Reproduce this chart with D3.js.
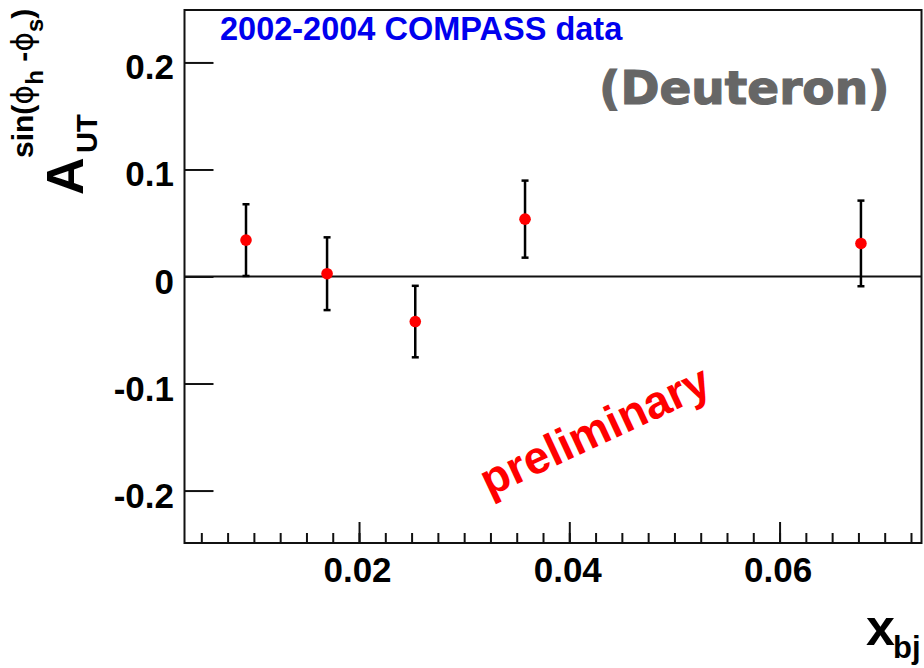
<!DOCTYPE html>
<html>
<head>
<meta charset="utf-8">
<script src="https://cdn.jsdelivr.net/npm/d3@7"></script>
<style>
html,body{margin:0;padding:0;background:#fff;}
svg{display:block;}
text{font-family:"Liberation Sans",Arial,Helvetica,sans-serif;}
</style>
</head>
<body>
<svg id="chart" width="924" height="668"></svg>
<script>
// ---- data ----
const xbj   = [0.00925, 0.01696, 0.02535, 0.03579, 0.06774];
const asym  = [0.0340, 0.0026, -0.0421, 0.0536, 0.0309];
const err   = [0.0335, 0.0340, 0.0334, 0.0360, 0.0400];
const yTicks = [-0.2, -0.1, 0, 0.1, 0.2];
const yTickLabels = ["-0.2", "-0.1", "0", "0.1", "0.2"];
const xMajorTicks = [0.02, 0.04, 0.06];
const xTickLabels = ["0.02", "0.04", "0.06"];
const xDomain = [0.0034, 0.0735];
const yDomain = [-0.249, 0.249];

const svg = d3.select("#chart");
const L = 184.5, R = 921.5, T = 10, B = 543;
const x = d3.scaleLinear().domain(xDomain).range([L, R]);
const y = d3.scaleLinear().domain(yDomain).range([B, T]);

// zero line
svg.append("line").attr("x1", L).attr("x2", R).attr("y1", y(0)).attr("y2", y(0))
  .attr("stroke", "#111").attr("stroke-width", 2);

// x axis ticks (minor every 0.0025)
const minor = d3.range(0.005, 0.0735, 0.0025).filter(v => v >= xDomain[0] && v <= xDomain[1]);
const xAxisMinor = d3.axisTop(x).tickValues(minor).tickSize(10).tickFormat("");
const xAxisMajor = d3.axisTop(x).tickValues(xMajorTicks).tickSize(21).tickFormat("");
[xAxisMinor, xAxisMajor].forEach(ax => {
  const g = svg.append("g").attr("transform", `translate(0,${B})`).call(ax);
  g.select(".domain").remove();
  g.selectAll("line").attr("stroke", "#111").attr("stroke-width", 2);
});
svg.append("g").selectAll("text").data(xMajorTicks).join("text")
  .attr("x", d => x(d) - 1.5).attr("y", 582)
  .attr("text-anchor", "middle").attr("font-size", 35).attr("font-weight", "bold")
  .text((d, i) => xTickLabels[i]);

// y axis
const yAxis = d3.axisRight(y).tickValues(yTicks).tickSize(29).tickFormat("");
const gy = svg.append("g").attr("transform", `translate(${L},0)`).call(yAxis);
gy.select(".domain").remove();
gy.selectAll("line").attr("stroke", "#111").attr("stroke-width", 2);
svg.append("g").selectAll("text").data(yTicks).join("text")
  .attr("x", 174).attr("y", d => y(d) + 17)
  .attr("text-anchor", "end").attr("font-size", 35).attr("font-weight", "bold")
  .text((d, i) => yTickLabels[i]);

// frame
svg.append("rect").attr("x", L).attr("y", T).attr("width", R - L).attr("height", B - T)
  .attr("fill", "none").attr("stroke", "#111").attr("stroke-width", 2);

// error bars
const pts = xbj.map((v, i) => ({x: v, y: asym[i], e: err[i]}));
const eb = svg.append("g");
eb.selectAll("line.v").data(pts).join("line").attr("class", "v")
  .attr("x1", d => x(d.x)).attr("x2", d => x(d.x))
  .attr("y1", d => y(d.y + d.e)).attr("y2", d => y(d.y - d.e))
  .attr("stroke", "#000").attr("stroke-width", 2.5);
["top", "bot"].forEach(k => {
  eb.selectAll("line." + k).data(pts).join("line").attr("class", k)
    .attr("x1", d => x(d.x) - 3.5).attr("x2", d => x(d.x) + 3.5)
    .attr("y1", d => y(k === "top" ? d.y + d.e : d.y - d.e))
    .attr("y2", d => y(k === "top" ? d.y + d.e : d.y - d.e))
    .attr("stroke", "#000").attr("stroke-width", 2.5);
});
svg.append("g").selectAll("circle").data(pts).join("circle")
  .attr("cx", d => x(d.x)).attr("cy", d => y(d.y)).attr("r", 5.8).attr("fill", "#f00");

// texts
svg.append("text").attr("x", 220).attr("y", 40).attr("font-size", 32.5).attr("font-weight", "bold")
  .attr("fill", "#0000ee").text("2002-2004 COMPASS data");
svg.append("text").attr("x", 599).attr("y", 104).attr("font-size", 47).attr("font-weight", "bold")
  .style("font-family", "'DejaVu Sans', Verdana, sans-serif")
  .attr("fill", "#666").attr("stroke", "#666").attr("stroke-width", 1.2).text("(Deuteron)");
svg.append("text").attr("transform", "translate(489,497) rotate(-25)")
  .attr("font-size", 46).attr("font-weight", "bold").attr("fill", "#ff0000").text("preliminary");

// y label (rotated)
const yl = svg.append("g").attr("transform", "rotate(-90)");
yl.append("text").attr("x", -195).attr("y", 83).attr("font-size", 52).attr("font-weight", "bold").text("A");
yl.append("text").attr("x", -153).attr("y", 97).attr("font-size", 29).attr("font-weight", "bold").text("UT");
const sup = yl.append("text").attr("x", -158).attr("y", 33).attr("font-size", 30).attr("font-weight", "bold");
const phi = "ϕ";
sup.append("tspan").text("sin(");
sup.append("tspan").style("font-family", "'DejaVu Sans',sans-serif").style("font-weight", "normal").text(phi);
sup.append("tspan").attr("dy", 10).attr("font-size", 24).text("h");
sup.append("tspan").attr("dy", -10).text(" -");
sup.append("tspan").style("font-family", "'DejaVu Sans',sans-serif").style("font-weight", "normal").text(phi);
sup.append("tspan").attr("dy", 10).attr("font-size", 24).text("s");
sup.append("tspan").attr("dy", -10).text(")");

// x label
svg.append("text").attr("x", 866).attr("y", 645).attr("font-size", 52).attr("font-weight", "bold").text("x");
svg.append("text").attr("x", 893).attr("y", 658).attr("font-size", 31).attr("font-weight", "bold").text("bj");
</script>
</body>
</html>
